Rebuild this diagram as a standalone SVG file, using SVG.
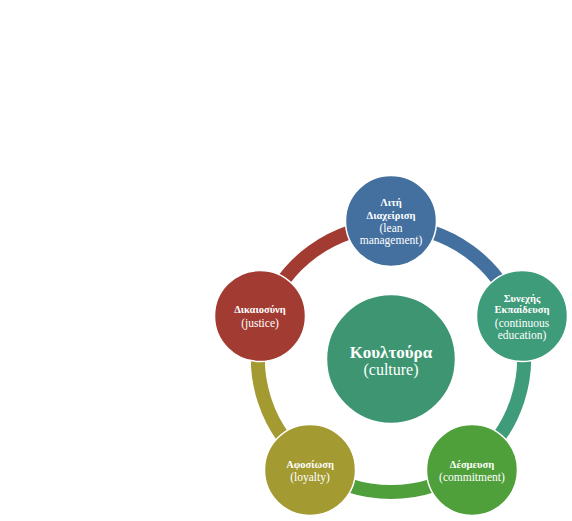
<svg xmlns="http://www.w3.org/2000/svg" width="572" height="521" viewBox="0 0 572 521">
<style>
.arc{fill:none;stroke-width:14}
.node{stroke:#fff;stroke-width:1.5}
.g{font-family:"Liberation Serif","DejaVu Serif",serif;font-weight:bold;font-size:10.5px;fill:#fff;text-anchor:middle}
.e{font-family:"Liberation Serif","DejaVu Serif",serif;font-size:11.5px;fill:#fff;text-anchor:middle}
.cg{font-family:"Liberation Serif","DejaVu Serif",serif;font-weight:bold;font-size:17px;fill:#fff;text-anchor:middle}
.ce{font-family:"Liberation Serif","DejaVu Serif",serif;font-size:16px;fill:#fff;text-anchor:middle}
</style>
<rect width="572" height="521" fill="#fff"/>
<g id="connectors">
<path class="arc" stroke="#44709f" d="M391,226 A133,133 0 0 1 517.5,317.9"/>
<path class="arc" stroke="#3f9c7a" d="M517.5,317.9 A133,133 0 0 1 469.2,466.6"/>
<path class="arc" stroke="#4f9f3a" d="M469.2,466.6 A133,133 0 0 1 312.8,466.6"/>
<path class="arc" stroke="#a39a32" d="M312.8,466.6 A133,133 0 0 1 264.5,317.9"/>
<path class="arc" stroke="#a23b32" d="M264.5,317.9 A133,133 0 0 1 391,226"/>
</g>
<g id="center">
<circle class="node" cx="391" cy="359" r="64.5" fill="#3d9671"/>
<text class="cg" x="391" y="358">Κουλτούρα</text>
<text class="ce" x="391" y="375">(culture)</text>
</g>
<g id="lean">
<circle class="node" cx="391" cy="221" r="45.5" fill="#44709f"/>
<text class="g" x="391" y="206">Λιτή</text>
<text class="g" x="391" y="218.5">Διαχείριση</text>
<text class="e" x="391" y="231.5">(lean</text>
<text class="e" x="391" y="243.5">management)</text>
</g>
<g id="education">
<circle class="node" cx="522" cy="316" r="45.5" fill="#3f9c7a"/>
<text class="g" x="522" y="301.5">Συνεχής</text>
<text class="g" x="522" y="313">Εκπαίδευση</text>
<text class="e" x="522" y="326.5">(continuous</text>
<text class="e" x="522" y="338.5">education)</text>
</g>
<g id="commitment">
<circle class="node" cx="472" cy="470" r="45.5" fill="#4f9f3a"/>
<text class="g" x="472" y="468">Δέσμευση</text>
<text class="e" x="472" y="481">(commitment)</text>
</g>
<g id="loyalty">
<circle class="node" cx="310" cy="470" r="45.5" fill="#a39a32"/>
<text class="g" x="310" y="468">Αφοσίωση</text>
<text class="e" x="310" y="481">(loyalty)</text>
</g>
<g id="justice">
<circle class="node" cx="260" cy="316" r="45.5" fill="#a23b32"/>
<text class="g" x="260" y="313">Δικαιοσύνη</text>
<text class="e" x="260" y="327">(justice)</text>
</g>
</svg>
